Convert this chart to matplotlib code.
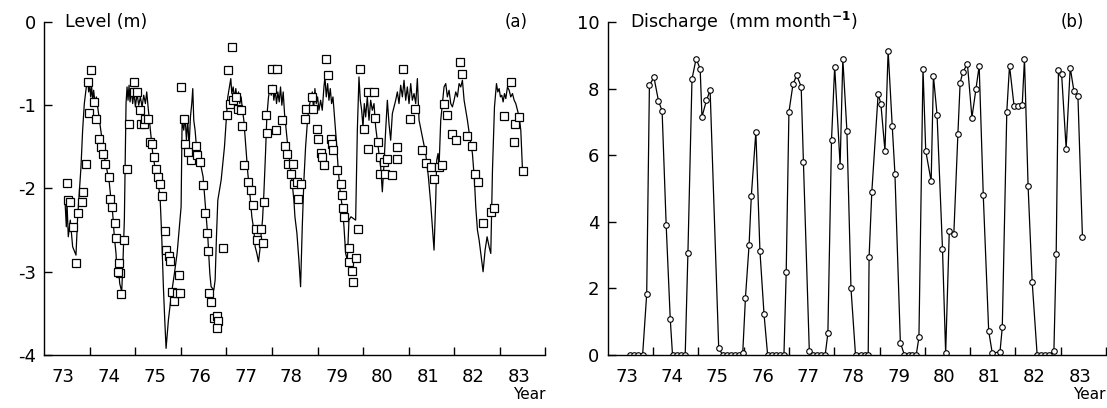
import matplotlib
matplotlib.use("Agg")
import matplotlib.pyplot as plt
from matplotlib.ticker import FixedLocator, FixedFormatter, NullFormatter

plt.rcParams['font.family'] = ['DejaVu Sans']
plt.rcParams['axes.unicode_minus'] = False

# --- panel (a): simulated lake level (line) and observed level (squares)
model_t = [73.454, 73.484, 73.498, 73.527, 73.571, 73.623, 73.696, 73.733, 73.769, 73.806,
           73.842, 73.879, 73.923, 73.952, 73.974, 73.996, 74.018, 74.040, 74.062, 74.084,
           74.114, 74.143, 74.172, 74.209, 74.260, 74.319, 74.377, 74.429, 74.465, 74.502,
           74.538, 74.575, 74.597, 74.626, 74.656, 74.700,
           74.729, 74.758, 74.773, 74.795, 74.817, 74.839, 74.861, 74.883, 74.912, 74.941,
           74.971, 75.000, 75.037, 75.073, 75.110, 75.147, 75.183, 75.220, 75.249, 75.286,
           75.330, 75.381, 75.440, 75.491, 75.542, 75.579, 75.615, 75.645, 75.674,
           75.725, 75.784, 75.857, 75.916, 75.967, 76.004, 76.026, 76.062, 76.092, 76.121,
           76.150, 76.179, 76.209, 76.238, 76.260, 76.282, 76.311, 76.341, 76.370, 76.407,
           76.443, 76.487, 76.538, 76.590, 76.634, 76.663, 76.722, 76.751,
           76.780, 76.810, 76.883, 76.956, 77.000, 77.029, 77.066, 77.095, 77.117, 77.147,
           77.176, 77.205, 77.234, 77.264, 77.293, 77.322, 77.352, 77.381, 77.425, 77.469,
           77.513, 77.557, 77.601, 77.630, 77.667, 77.703, 77.733, 77.762, 77.791,
           77.821, 77.857, 77.886, 77.923, 77.960, 77.982, 78.011, 78.040, 78.070, 78.099,
           78.128, 78.158, 78.187, 78.216, 78.245, 78.275, 78.333, 78.385, 78.436, 78.480,
           78.503, 78.547, 78.590, 78.627,
           78.664, 78.700, 78.737, 78.774, 78.810, 78.847, 78.884, 78.913, 78.942, 78.971,
           79.001, 79.030, 79.067, 79.103, 79.140, 79.162, 79.191, 79.221, 79.250, 79.279,
           79.308, 79.338, 79.367, 79.411, 79.455, 79.499, 79.543, 79.580, 79.616, 79.653,
           79.689, 79.733, 79.785, 79.836,
           79.873, 79.909, 79.938, 79.968, 79.997, 80.026, 80.056, 80.092, 80.129, 80.166,
           80.202, 80.239, 80.275, 80.312, 80.349, 80.385, 80.422, 80.459, 80.495, 80.532,
           80.568, 80.605, 80.642, 80.678, 80.715, 80.752, 80.788, 80.825, 80.862, 80.898,
           80.935, 80.971, 81.008, 81.045, 81.081, 81.118, 81.155, 81.191, 81.228, 81.301,
           81.374, 81.433, 81.484, 81.521, 81.557,
           81.594, 81.616, 81.645, 81.667, 81.704, 81.740, 81.777, 81.814, 81.850, 81.887,
           81.924, 81.960, 81.997, 82.034, 82.070, 82.107, 82.144, 82.180, 82.217, 82.253,
           82.290, 82.341, 82.400, 82.444, 82.473, 82.510, 82.547, 82.583, 82.634, 82.678,
           82.722, 82.766, 82.803,
           82.840, 82.884, 82.928, 82.957, 82.986, 83.015, 83.045, 83.074, 83.103, 83.133,
           83.169, 83.206, 83.242, 83.279, 83.316, 83.352, 83.389, 83.426, 83.462, 83.499]
model_level = [-2.14, -2.46, -2.16, -2.58, -2.38, -2.70, -2.80, -2.34, -2.04, -1.74,
               -1.30, -0.98, -0.78, -0.68, -0.84, -0.74, -0.90, -0.78, -0.94, -0.82,
               -0.98, -0.90, -1.02, -1.18, -1.38, -1.62, -1.78, -1.94, -2.14, -2.30,
               -2.58, -2.78, -3.02, -2.94, -3.14, -3.24,
               -2.86, -2.38, -1.78, -0.98, -0.78, -0.94, -0.76, -0.96, -0.82, -0.98,
               -0.84, -1.02, -0.86, -1.00, -0.90, -1.02, -0.88, -0.98, -0.84, -1.06,
               -1.30, -1.58, -1.78, -1.90, -2.10, -2.58, -3.18, -3.58, -3.92,
               -3.58, -3.30, -3.02, -2.78, -2.46, -2.22, -1.18, -1.30, -1.14, -1.42,
               -1.18, -1.50, -1.14, -0.98, -0.80, -1.18, -1.30, -1.50, -1.58, -1.66,
               -1.74, -1.86, -2.22, -2.58, -3.02, -3.18, -3.22, -3.10,
               -2.58, -2.14, -1.90, -1.50, -1.14, -0.90, -0.78, -0.68, -0.86, -0.78,
               -0.92, -0.80, -0.94, -0.84, -0.98, -0.90, -1.06, -1.18, -1.50, -1.82,
               -2.06, -2.34, -2.50, -2.70, -2.78, -2.88, -2.74, -2.54, -2.38,
               -2.06, -1.58, -1.14, -0.90, -0.78, -0.88, -0.76, -0.94, -0.82, -0.98,
               -0.84, -0.96, -0.78, -1.00, -0.84, -1.10, -1.42, -1.66, -1.90, -2.14,
               -2.34, -2.54, -2.86, -3.18,
               -2.46, -1.90, -1.50, -1.22, -1.02, -0.94, -0.84, -1.06, -0.80, -0.98,
               -0.90, -1.06, -0.94, -1.06, -0.78, -0.66, -0.90, -0.74, -0.94, -0.80,
               -0.98, -0.90, -1.10, -1.42, -1.78, -2.06, -2.22, -2.46, -2.78, -2.86,
               -2.38, -2.34, -2.36, -2.38,
               -1.30, -0.66, -0.94, -1.06, -1.26, -0.98, -1.14, -0.90, -1.18, -0.94,
               -1.06, -0.98, -1.26, -1.42, -1.58, -1.74, -2.04, -1.70, -1.30, -0.94,
               -1.22, -1.42, -1.10, -1.02, -0.94, -0.84, -0.98, -0.76, -0.90, -0.70,
               -0.94, -0.78, -0.98, -0.74, -0.94, -0.86, -0.98, -0.68, -1.18, -1.38,
               -1.58, -1.86, -2.18, -2.46, -2.74,
               -2.14, -1.66, -1.58, -1.74, -1.18, -0.98, -0.78, -0.74, -0.90, -0.82,
               -0.98, -1.02, -0.94, -0.84, -0.90, -0.74, -0.78, -0.70, -0.94, -1.06,
               -1.18, -1.38, -1.58, -1.90, -2.22, -2.50, -2.62, -2.78, -3.00, -2.74,
               -2.58, -2.70, -2.78,
               -1.78, -1.02, -0.74, -0.84, -0.80, -0.90, -0.88, -0.96, -0.86, -0.92,
               -0.78, -0.82, -0.90, -0.86, -0.94, -0.98, -1.06, -1.14, -1.30, -1.78]

obs_t = [73.49, 73.52, 73.56, 73.64, 73.69, 73.73, 73.82, 73.86, 73.92, 73.95,
         74.02, 73.98, 74.09, 74.14, 74.20, 74.24, 74.28, 74.33, 74.41, 74.44,
         74.49, 74.55, 74.58, 74.75, 74.64, 74.66, 74.69, 74.62, 74.82, 74.86,
         74.96, 74.97, 75.04, 75.10, 75.12, 75.19, 75.21, 75.28, 75.32, 75.37,
         75.41, 75.46, 75.50, 75.54, 75.59, 75.65, 75.68, 75.73, 75.76, 75.81,
         75.85, 75.91, 75.97, 75.95, 76.01, 76.07, 76.09, 76.16, 76.22, 76.33,
         76.36, 76.42, 76.49, 76.53, 76.57, 76.60, 76.61, 76.66, 76.73, 76.80,
         76.82, 76.79, 76.92, 77.01, 77.04, 77.13, 77.08, 77.15, 77.21, 77.26,
         77.32, 77.35, 77.39, 77.48, 77.54, 77.59, 77.65, 77.76, 77.67, 77.81,
         77.83, 77.88, 77.87, 78.00, 78.10, 78.00, 78.09, 78.21, 78.28, 78.32,
         78.34, 78.42, 78.47, 78.49, 78.55, 78.63, 78.58, 78.72, 78.75, 78.87,
         78.90, 78.99, 79.02, 79.07, 79.10, 79.14, 79.18, 79.24, 79.29, 79.32,
         79.34, 79.42, 79.51, 79.54, 79.56, 79.59, 79.69, 79.70, 79.75, 79.78,
         79.85, 79.89, 79.93, 80.02, 80.11, 80.24, 80.11, 80.26, 80.33, 80.38,
         80.38, 80.46, 80.53, 80.48, 80.64, 80.74, 80.75, 80.88, 81.04, 81.14,
         81.30, 81.37, 81.48, 81.56, 81.67, 81.74, 81.78, 81.85, 81.96, 82.05,
         82.12, 82.18, 82.27, 82.38, 82.45, 82.53, 82.64, 82.80, 82.88, 83.10,
         83.24, 83.34, 83.32, 83.43, 83.50]
obs_level = [-1.93, -2.14, -2.16, -2.46, -2.90, -2.29, -2.16, -2.04, -1.70, -0.72,
             -0.58, -1.09, -0.96, -1.17, -1.41, -1.50, -1.58, -1.70, -1.86, -2.13,
             -2.22, -2.42, -2.60, -2.62, -2.90, -3.01, -3.27, -3.00, -1.76, -1.22,
             -0.72, -0.84, -0.84, -1.06, -1.23, -1.23, -1.17, -1.17, -1.44, -1.46,
             -1.62, -1.76, -1.86, -1.94, -2.09, -2.51, -2.74, -2.81, -2.87, -3.24,
             -3.35, -3.25, -3.26, -3.04, -0.78, -1.17, -1.46, -1.56, -1.66, -1.49,
             -1.60, -1.68, -1.96, -2.30, -2.53, -2.75, -3.25, -3.36, -3.55, -3.53,
             -3.59, -3.68, -2.72, -1.12, -0.58, -0.30, -0.98, -0.94, -0.90, -1.04,
             -1.06, -1.25, -1.72, -1.92, -2.02, -2.20, -2.49, -2.49, -2.62, -2.65,
             -2.16, -1.33, -1.12, -0.56, -0.56, -0.80, -1.30, -1.18, -1.49, -1.58,
             -1.70, -1.82, -1.70, -1.94, -1.92, -1.94, -2.13, -1.16, -1.04, -0.90,
             -1.05, -1.28, -1.41, -1.57, -1.62, -1.72, -0.44, -0.64, -1.40, -1.46,
             -1.54, -1.78, -1.94, -2.08, -2.23, -2.34, -2.72, -2.88, -2.99, -3.12,
             -2.83, -2.49, -0.57, -1.28, -0.84, -0.84, -1.53, -1.15, -1.44, -1.62,
             -1.82, -1.68, -1.65, -1.82, -1.84, -1.50, -1.64, -0.56, -1.16, -1.04,
             -1.54, -1.69, -1.74, -1.88, -1.74, -1.72, -0.98, -1.12, -1.35, -1.42,
             -0.48, -0.62, -1.37, -1.49, -1.82, -1.92, -2.42, -2.28, -2.24, -1.13,
             -0.72, -1.22, -1.44, -1.14, -1.79]

# --- panel (b): monthly discharge
q_t = [73.49, 73.58, 73.67, 73.77, 73.86, 73.92, 74.02, 74.12, 74.20, 74.29,
       74.38, 74.43, 74.52, 74.61, 74.71, 74.77, 74.86, 74.95, 75.04, 75.08,
       75.18, 75.26, 75.45, 75.54, 75.63, 75.72, 75.81, 75.89, 75.98, 76.04,
       76.12, 76.17, 76.27, 76.36, 76.45, 76.53, 76.62, 76.72, 76.80, 76.89,
       76.94, 77.00, 77.09, 77.17, 77.27, 77.32, 77.45, 77.53, 77.62, 77.71,
       77.80, 77.86, 77.94, 78.01, 78.13, 78.19, 78.28, 78.37, 78.47, 78.60,
       78.68, 78.75, 78.77, 78.83, 78.97, 79.03, 79.12, 79.19, 79.28, 79.34,
       79.46, 79.55, 79.64, 79.72, 79.81, 79.87, 79.96, 80.02, 80.14, 80.19,
       80.27, 80.39, 80.46, 80.54, 80.64, 80.73, 80.78, 80.84, 80.94, 81.04,
       81.13, 81.20, 81.29, 81.41, 81.49, 81.66, 81.71, 81.81, 81.87, 81.97,
       82.06, 82.15, 82.20, 82.28, 82.37, 82.48, 82.57, 82.65, 82.74, 82.85,
       82.90, 82.95, 83.02, 83.12, 83.21, 83.29, 83.38, 83.48]
q_val = [0.0, 0.0, 0.0, 0.0, 1.83, 8.10, 8.34, 7.63, 7.33, 3.90,
         1.08, 0.0, 0.0, 0.0, 0.0, 3.06, 8.29, 8.89, 8.60, 7.15,
         7.65, 7.95, 0.20, 0.0, 0.0, 0.0, 0.0, 0.0, 0.05, 1.72,
         3.30, 4.78, 6.70, 3.12, 1.23, 0.0, 0.0, 0.0, 0.0, 0.0,
         2.50, 7.30, 8.13, 8.40, 8.06, 5.79, 0.12, 0.0, 0.0, 0.0,
         0.0, 0.65, 6.45, 8.66, 5.69, 8.89, 6.73, 2.00, 0.0, 0.0,
         0.0, 0.0, 2.95, 4.90, 7.84, 7.54, 6.13, 9.14, 6.89, 5.45,
         0.37, 0.0, 0.0, 0.0, 0.0, 0.53, 8.60, 6.13, 5.22, 8.38,
         7.22, 3.19, 0.05, 3.71, 3.62, 6.63, 8.18, 8.49, 8.75, 7.13,
         8.00, 8.68, 4.81, 0.72, 0.05, 0.10, 0.83, 7.31, 8.69, 7.48,
         7.48, 7.50, 8.89, 5.07, 2.20, 0.0, 0.0, 0.0, 0.0, 0.13,
         3.02, 8.56, 8.43, 6.20, 8.63, 7.94, 7.78, 3.54]

year_labels = ['73', '74', '75', '76', '77', '78', '79', '80', '81', '82', '83']
year_bounds = [74, 75, 76, 77, 78, 79, 80, 81, 82, 83, 84]


def style_axis(ax, ylim, yticks, ylabels):
    for s in ['top', 'right']:
        ax.spines[s].set_visible(False)
    for s in ['left', 'bottom']:
        ax.spines[s].set_linewidth(1.0)
    ax.set_xlim(73, 84)
    ax.set_ylim(*ylim)
    ax.xaxis.set_major_locator(FixedLocator([int(l) + 0.42 for l in year_labels]))
    ax.xaxis.set_major_formatter(FixedFormatter(year_labels))
    ax.xaxis.set_minor_locator(FixedLocator(year_bounds))
    ax.xaxis.set_minor_formatter(NullFormatter())
    ax.tick_params(axis='x', which='major', length=0, pad=9, labelsize=13)
    ax.tick_params(axis='x', which='minor', direction='in', length=6, width=1.0)
    ax.set_yticks(yticks)
    ax.set_yticklabels(ylabels)
    ax.tick_params(axis='y', direction='in', length=6, width=1.0, pad=6, labelsize=13)
    ax.text(1.0, -0.095, 'Year', transform=ax.transAxes, ha='right', va='top', fontsize=11)


fig = plt.figure(figsize=(11.07, 4.08), dpi=100)

ax1 = fig.add_axes([0.0400, 0.1299, 0.4526, 0.8162])
ax1.plot(model_t, model_level, color='black', lw=0.9)
ax1.plot(obs_t, obs_level, ls='none', marker='s', ms=5.5, mfc='white', mec='black', mew=0.9)
style_axis(ax1, (-4, 0), [0, -1, -2, -3, -4], ['0', '-1', '-2', '-3', '-4'])
ax1.text(73.46, 0, 'Level (m)', ha='left', va='center', fontsize=12.5)
ax1.text(83.35, 0, '(a)', ha='center', va='center', fontsize=12)

ax2 = fig.add_axes([0.5490, 0.1299, 0.4501, 0.8162])
ax2.plot(q_t, q_val, color='black', lw=0.9, marker='o', ms=4, mfc='white', mec='black', mew=0.8)
style_axis(ax2, (0, 10), [0, 2, 4, 6, 8, 10], ['0', '2', '4', '6', '8', '10'])
ax2.text(73.49, 10, 'Discharge  (mm month$^{\\mathbf{-1}}$)', ha='left', va='center', fontsize=12.5)
ax2.text(83.25, 10, '(b)', ha='center', va='center', fontsize=12)

fig.savefig('out.png', dpi=100)
